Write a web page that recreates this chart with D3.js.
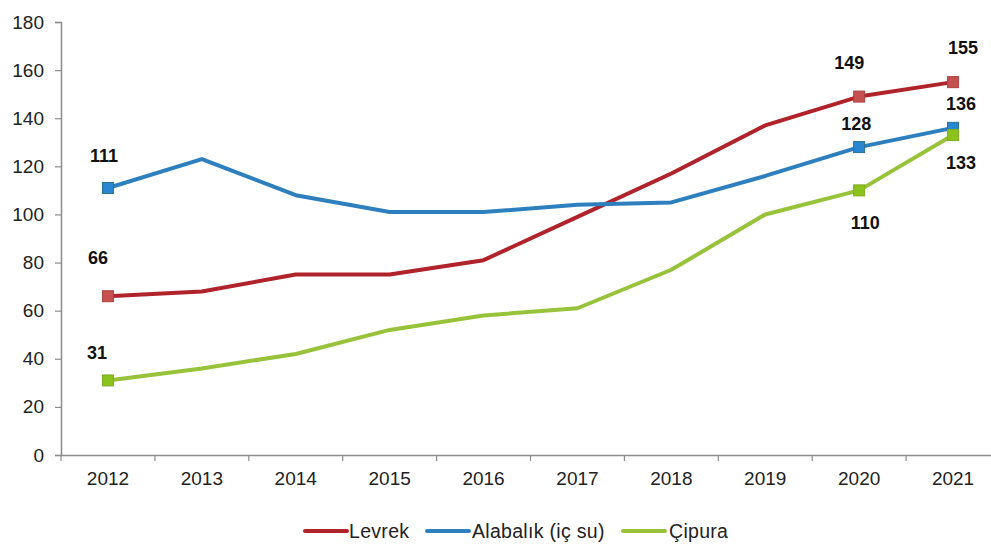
<!DOCTYPE html>
<html>
<head>
<meta charset="utf-8">
<script src="https://cdn.jsdelivr.net/npm/d3@7"></script>
<style>
  html, body { margin: 0; padding: 0; background: #fff; }
  svg { display: block; font-family: "Liberation Sans", Arial, sans-serif; }
</style>
</head>
<body>
<svg id="chart" width="991" height="545"></svg>
<script>
// Years on the x axis
const years = ["2012","2013","2014","2015","2016","2017","2018","2019","2020","2021"];

// Series values
const levrek   = [66, 68, 75, 75, 81, 99, 117, 137, 149, 155];
const alabalik = [111, 123, 108, 101, 101, 104, 105, 116, 128, 136];
const cipura   = [31, 36, 42, 52, 58, 61, 77, 100, 110, 133];

// Y axis tick values
const yTicks = [0, 20, 40, 60, 80, 100, 120, 140, 160, 180];

// Series names
const seriesNames = ["Levrek", "Alabalık (iç su)", "Çipura"];

// Years that carry a marker and a value label
const labelledYears = ["2012", "2020", "2021"];

// Label offsets (dx, dy) relative to each marker
const series = [
  { name: seriesNames[0], values: levrek,   line: "#b0232b", marker: "#c4504f", edge: "#a84442",
    label: { "2012": [-10, -32], "2020": [-10, -28], "2021": [10, -28] } },
  { name: seriesNames[1], values: alabalik, line: "#2e7fbe", marker: "#2b86d1", edge: "#2a6f8f",
    label: { "2012": [-4, -26], "2020": [-3, -17], "2021": [8, -18] } },
  { name: seriesNames[2], values: cipura,   line: "#99c23b", marker: "#8cc21c", edge: "#7fae22",
    label: { "2012": [-11, -21], "2020": [6, 39], "2021": [8, 34] } }
];

const svg = d3.select("#chart");
const plotLeft = 61, plotTop = 22, plotBottom = 455, plotRight = 1000;

const x = d3.scaleBand().domain(years).range([plotLeft, plotRight]);
const y = d3.scaleLinear().domain([0, 180]).range([plotBottom, plotTop]);

// Y axis
const yAxis = svg.append("g")
  .attr("transform", `translate(${plotLeft},0)`)
  .call(d3.axisLeft(y).tickValues(yTicks).tickSize(6).tickPadding(11));
yAxis.select(".domain").attr("stroke", "#8c8c8c").attr("stroke-width", 1.5);
yAxis.selectAll(".tick line").attr("stroke", "#8c8c8c").attr("stroke-width", 1.2);
yAxis.selectAll(".tick text").attr("font-size", 19).attr("fill", "#222")
  .attr("font-family", "Liberation Sans, Arial, sans-serif");

// X axis with ticks on band boundaries
const xAxis = svg.append("g")
  .attr("transform", `translate(0,${plotBottom})`)
  .call(d3.axisBottom(x).tickSize(0).tickPadding(17));
xAxis.select(".domain").attr("stroke", "#8c8c8c").attr("stroke-width", 1.5);
xAxis.selectAll(".tick text").attr("font-size", 19).attr("fill", "#222")
  .attr("font-family", "Liberation Sans, Arial, sans-serif");
xAxis.selectAll(".boundary")
  .data(years)
  .enter().append("line")
  .attr("x1", d => x(d)).attr("x2", d => x(d))
  .attr("y1", 0).attr("y2", 6)
  .attr("stroke", "#8c8c8c").attr("stroke-width", 1.2);

const line = d3.line()
  .x((d, i) => x(years[i]) + x.bandwidth() / 2)
  .y(d => y(d));

// Lines
series.forEach(s => {
  svg.append("path")
    .datum(s.values)
    .attr("fill", "none")
    .attr("stroke", s.line)
    .attr("stroke-width", 4)
    .attr("stroke-linejoin", "round")
    .attr("d", line);
});

// Markers and value labels
series.forEach(s => {
  labelledYears.forEach(yr => {
    const i = years.indexOf(yr);
    const cx = x(yr) + x.bandwidth() / 2;
    const cy = y(s.values[i]);
    const [dx, dy] = s.label[yr];
    svg.append("rect")
      .attr("x", cx - 5.5).attr("y", cy - 5.5)
      .attr("width", 11).attr("height", 11)
      .attr("fill", s.marker)
      .attr("stroke", s.edge).attr("stroke-width", 1);
    svg.append("text")
      .attr("x", cx + dx).attr("y", cy + dy)
      .attr("text-anchor", "middle")
      .attr("font-size", 18).attr("font-weight", "bold").attr("fill", "#111")
      .text(s.values[i]);
  });
});

// Legend
const legendItems = [
  { x: 305, textX: 349 },
  { x: 427, textX: 472 },
  { x: 623, textX: 669 }
];
series.forEach((s, k) => {
  const it = legendItems[k];
  svg.append("line")
    .attr("x1", it.x).attr("x2", it.x + 42)
    .attr("y1", 531).attr("y2", 531)
    .attr("stroke", s.line).attr("stroke-width", 4).attr("stroke-linecap", "round");
  svg.append("text")
    .attr("x", it.textX).attr("y", 538)
    .attr("font-size", 19.5).attr("letter-spacing", 0.3).attr("fill", "#222")
    .text(s.name);
});
</script>
</body>
</html>
